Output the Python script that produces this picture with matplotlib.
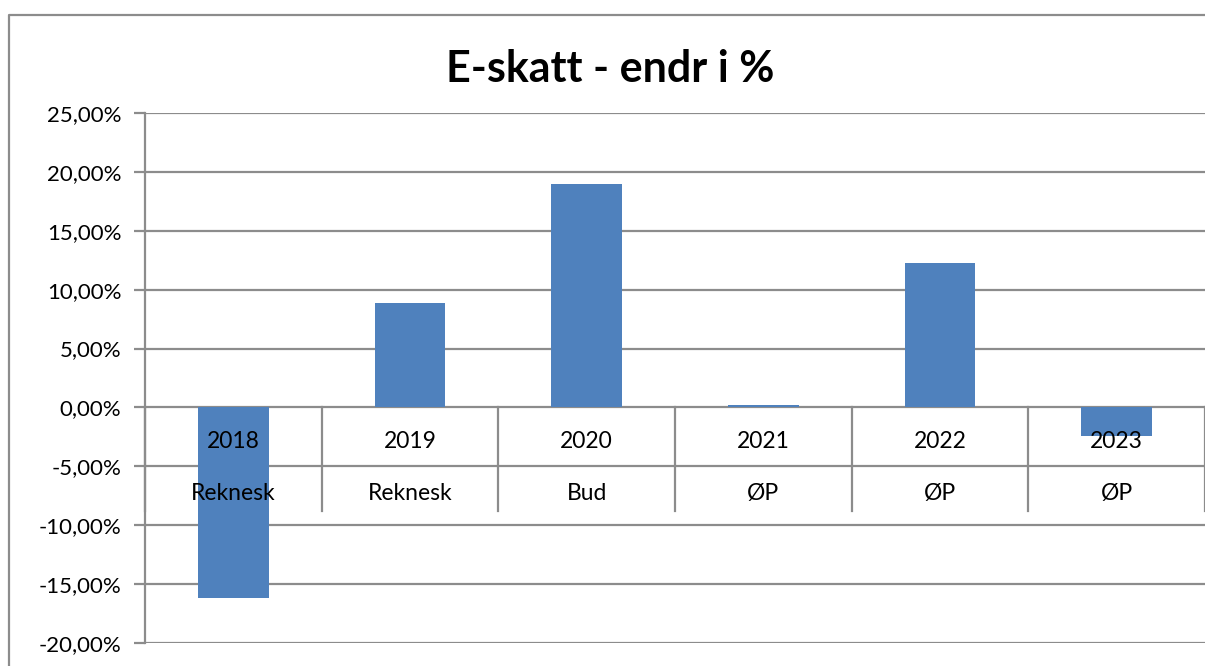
import numpy as np
import matplotlib.pyplot as plt
from matplotlib.lines import Line2D

plt.rcParams['font.family'] = ['Lato', 'DejaVu Sans']

years = ['2018', '2019', '2020', '2021', '2022', '2023']
kinds = ['Reknesk', 'Reknesk', 'Bud', 'ØP', 'ØP', 'ØP']
endr = [-16.2, 8.9, 18.95, 0.2, 12.3, -2.4]   # prosent

bar_col = '#4F81BD'
grid_col = '#8C8C8C'

fig = plt.figure(figsize=(12.05, 6.66), dpi=100)
ax = fig.add_axes([0.1203, 0.0345, 0.8797, 0.7958])

x = np.arange(len(years))
ax.bar(x, endr, width=0.4, color=bar_col, zorder=3)

ax.set_xlim(-0.5, len(years) - 0.5)
ax.set_ylim(-20, 25)
yt = np.arange(-20, 26, 5)
ax.set_yticks(yt)
ax.set_yticklabels([('%.2f%%' % v).replace('.', ',') for v in yt], fontsize=16)
ax.set_xticks([])
ax.yaxis.grid(True, color=grid_col, linewidth=1.6, zorder=0)
ax.tick_params(axis='y', length=8, width=1.6, color=grid_col, pad=9)

for s in ['top', 'right', 'bottom']:
    ax.spines[s].set_visible(False)
ax.spines['left'].set_color(grid_col)
ax.spines['left'].set_linewidth(1.6)

# kategori-skiljeliner og etikettar ved null-lina
for b in np.arange(-0.5, len(years), 1.0):
    ax.plot([b, b], [0, -8.75], color=grid_col, linewidth=1.6, zorder=2, clip_on=False)
for i in range(len(years)):
    ax.text(x[i], -2.9, years[i], ha='center', va='center', fontsize=16.5, zorder=4)
    ax.text(x[i], -7.3, kinds[i], ha='center', va='center', fontsize=16.5, zorder=4)

fig.text(0.506, 0.897, 'E-skatt - endr i %', ha='center', va='center',
         fontsize=31, fontweight='bold')

# ytre ramme
fig.add_artist(Line2D([0.0075, 0.0075, 1.0], [0.0, 0.9775, 0.9775],
                      transform=fig.transFigure, color=grid_col, linewidth=1.6))

fig.savefig('out.png', dpi=100)
